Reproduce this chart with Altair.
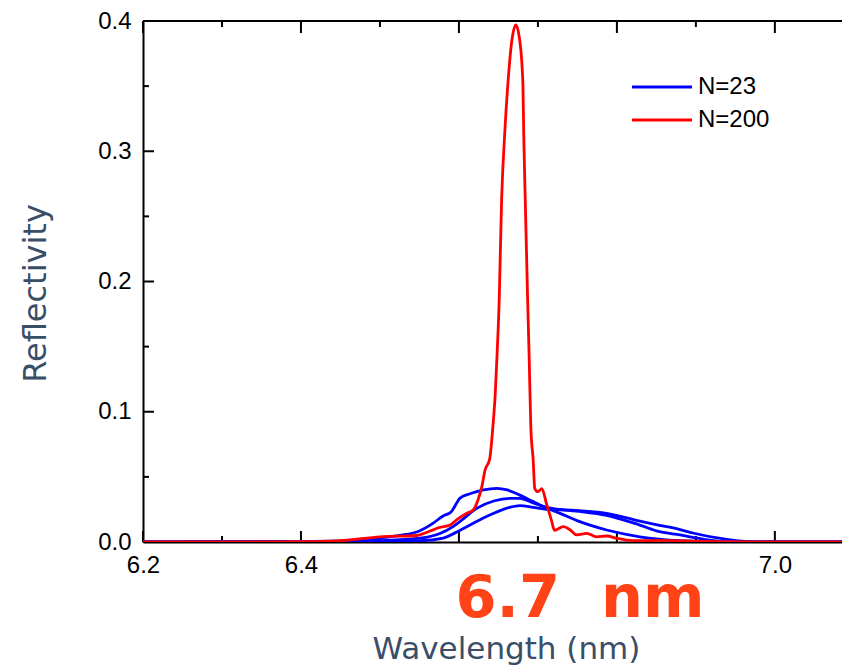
import altair as alt
import pandas as pd

# ---------------- data ----------------
series_names = ["N=23", "N=200"]
series_colors = ["#0000ff", "#ff0000"]

# N=23, three blue curves
ax = [6.20, 6.40, 6.483, 6.50, 6.525, 6.55, 6.567, 6.580, 6.590, 6.597, 6.601, 6.614, 6.631,
      6.648, 6.661, 6.677, 6.694, 6.711, 6.728, 6.753, 6.787, 6.829, 6.880, 6.930, 7.000, 7.100]
ay = [0, 0.0005, 0.0015, 0.003, 0.005, 0.0085, 0.0143, 0.020, 0.023, 0.0297, 0.0335, 0.037, 0.040,
      0.0412, 0.040, 0.036, 0.031, 0.026, 0.022, 0.0156, 0.0092, 0.004, 0.001, 0.0002, 0, 0]

bx = [6.20, 6.40, 6.483, 6.551, 6.576, 6.593, 6.606, 6.623, 6.644, 6.665, 6.677, 6.694, 6.711,
      6.728, 6.753, 6.787, 6.829, 6.854, 6.880, 6.896, 6.930, 6.970, 7.100]
by = [0, 0.0003, 0.0008, 0.003, 0.0065, 0.012, 0.018, 0.026, 0.0315, 0.0335, 0.0335, 0.030, 0.0265,
      0.025, 0.0235, 0.0205, 0.013, 0.0079, 0.0054, 0.0036, 0.0005, 0, 0]

cx = [6.20, 6.40, 6.483, 6.551, 6.580, 6.595, 6.614, 6.639, 6.664, 6.677, 6.694, 6.711, 6.741,
      6.787, 6.829, 6.854, 6.880, 6.896, 6.939, 6.980, 7.100]
cy = [0, 0.0001, 0.0005, 0.001, 0.003, 0.007, 0.013, 0.0207, 0.0266, 0.028, 0.0266, 0.025, 0.0245,
      0.022, 0.016, 0.0128, 0.0095, 0.0069, 0.002, 0, 0]

# N=200, red curve
rx = [6.20, 6.30, 6.40, 6.45, 6.50, 6.546, 6.576, 6.589, 6.597, 6.610, 6.618, 6.624, 6.629, 6.633,
      6.639, 6.643, 6.646, 6.648, 6.651, 6.654, 6.658, 6.662, 6.667, 6.672, 6.677, 6.681, 6.682,
      6.684, 6.687, 6.689, 6.691, 6.694, 6.696, 6.700, 6.705, 6.711, 6.717, 6.721, 6.732, 6.741,
      6.749, 6.762, 6.774, 6.787, 6.800, 6.812, 6.829, 6.854, 6.880, 6.930, 7.000, 7.100]
ry = [0, 0, 0.0002, 0.001, 0.004, 0.005, 0.0113, 0.013, 0.017, 0.022, 0.0245, 0.032, 0.0425, 0.055,
      0.064, 0.0885, 0.114, 0.140, 0.186, 0.262, 0.314, 0.352, 0.385, 0.397, 0.385, 0.352, 0.314,
      0.262, 0.186, 0.140, 0.0885, 0.063, 0.041, 0.0386, 0.041, 0.029, 0.017, 0.009, 0.0118, 0.0092,
      0.0054, 0.0066, 0.004, 0.0046, 0.0028, 0.0015, 0.001, 0.0012, 0.0008, 0.0003, 0.0001, 0]

x_label_values = [6.2, 6.4, 7.0]
y_label_values = [0.0, 0.1, 0.2, 0.3, 0.4]
x_major = [6.2, 6.4, 6.6, 6.8, 7.0]
x_minor = [6.3, 6.5, 6.7, 6.9]
y_major = [0.0, 0.1, 0.2, 0.3, 0.4]
y_minor = [0.05, 0.15, 0.25, 0.35]
x_domain = [6.2, 7.085]
y_domain = [0.0, 0.4]
annotation = ["6.7\u00a0\u00a0nm"]

# ---------------- tables ----------------
blue_rows = []
for cid, xs_, ys_ in [("a", ax, ay), ("b", bx, by), ("c", cx, cy)]:
    for xv, yv in zip(xs_, ys_):
        blue_rows.append({"wl": xv, "R": yv, "series": series_names[0], "curve": cid})
blue_df = pd.DataFrame(blue_rows)
red_df = pd.DataFrame({"wl": rx, "R": ry, "series": series_names[1], "curve": "r"})

W, H = 699, 521
TITLE_COLOR = "#3b4e68"

x_axis = alt.Axis(values=x_label_values, format=".1f", ticks=False, tickSize=0, grid=False,
                  domainColor="black", domainWidth=2, labelFont="Liberation Sans",
                  labelFontSize=24, labelColor="black", labelPadding=11, labelFlush=False,
                  labelOverlap=False, title="Wavelength (nm)", titleFont="DejaVu Sans",
                  titleFontSize=31, titleFontWeight="normal", titleColor=TITLE_COLOR,
                  titleX=363, titleY=116, titleBaseline="alphabetic", titleAlign="center")
y_axis = alt.Axis(values=y_label_values, format=".1f", ticks=False, tickSize=0, grid=False,
                  domainColor="black", domainWidth=2, labelFont="Liberation Sans",
                  labelFontSize=24, labelColor="black", labelPadding=12, labelFlush=False,
                  labelOverlap=False, title="Reflectivity", titleFont="DejaVu Sans",
                  titleFontSize=32, titleFontWeight="normal", titleColor=TITLE_COLOR,
                  titleX=-98, titleY=272, titleAngle=270, titleBaseline="alphabetic",
                  titleAlign="center")

xs = alt.Scale(domain=x_domain, nice=False, zero=False)
ys = alt.Scale(domain=y_domain, nice=False, zero=False)


def X():
    return alt.X("wl:Q", scale=xs, axis=x_axis)


def Y():
    return alt.Y("R:Q", scale=ys, axis=y_axis)


color_enc = alt.Color(
    "series:N",
    scale=alt.Scale(domain=series_names, range=series_colors),
    legend=alt.Legend(orient="none", legendX=507, legendY=54, title=None,
                      symbolType="M-3,0H3", symbolSize=400, symbolStrokeWidth=3,
                      labelFont="Liberation Sans", labelFontSize=24, labelColor="black",
                      labelOffset=24, rowPadding=9, padding=0),
)

blue = alt.Chart(blue_df).mark_line(strokeWidth=2.8, interpolate="monotone", clip=True).encode(
    x=X(), y=Y(), color=color_enc, detail="curve:N")
red = alt.Chart(red_df).mark_line(strokeWidth=2.8, interpolate="monotone", clip=True).encode(
    x=X(), y=Y(), color=color_enc, detail="curve:N")

ydf_major = pd.DataFrame({"R": y_major})
ydf_minor = pd.DataFrame({"R": y_minor})
xdf_major = pd.DataFrame({"wl": x_major})
xdf_minor = pd.DataFrame({"wl": x_minor})

tick_style = dict(color="black", strokeWidth=2)
ytm = alt.Chart(ydf_major).mark_rule(**tick_style).encode(y=Y(), x=alt.value(0), x2=alt.value(11))
ytn = alt.Chart(ydf_minor).mark_rule(**tick_style).encode(y=Y(), x=alt.value(0), x2=alt.value(6))
xbm = alt.Chart(xdf_major).mark_rule(**tick_style).encode(x=X(), y=alt.value(H), y2=alt.value(H - 11))
xbn = alt.Chart(xdf_minor).mark_rule(**tick_style).encode(x=X(), y=alt.value(H), y2=alt.value(H - 6))
xtm = alt.Chart(xdf_major).mark_rule(**tick_style).encode(x=X(), y=alt.value(0), y2=alt.value(12))
xtn = alt.Chart(xdf_minor).mark_rule(**tick_style).encode(x=X(), y=alt.value(0), y2=alt.value(6))
frame_top = alt.Chart(pd.DataFrame({"k": [0]})).mark_rule(**tick_style).encode(
    x=alt.value(0), x2=alt.value(W), y=alt.value(0))

anno = alt.Chart(pd.DataFrame({"t": annotation})).mark_text(
    font="DejaVu Sans", fontSize=59, fontWeight="bold", color="#ff4316",
    align="center", baseline="alphabetic").encode(text="t:N", x=alt.value(437), y=alt.value(596))

chart = alt.layer(ytm, ytn, xbm, xbn, xtm, xtn, frame_top, blue, red, anno).properties(
    width=W, height=H,
    padding={"left": 135, "top": 13, "right": 0, "bottom": 126},
    autosize=alt.AutoSizeParams(type="none"),
).configure_view(stroke=None).configure(background="white")

chart.save("out.html", embed_options={"renderer": "svg", "actions": False})
